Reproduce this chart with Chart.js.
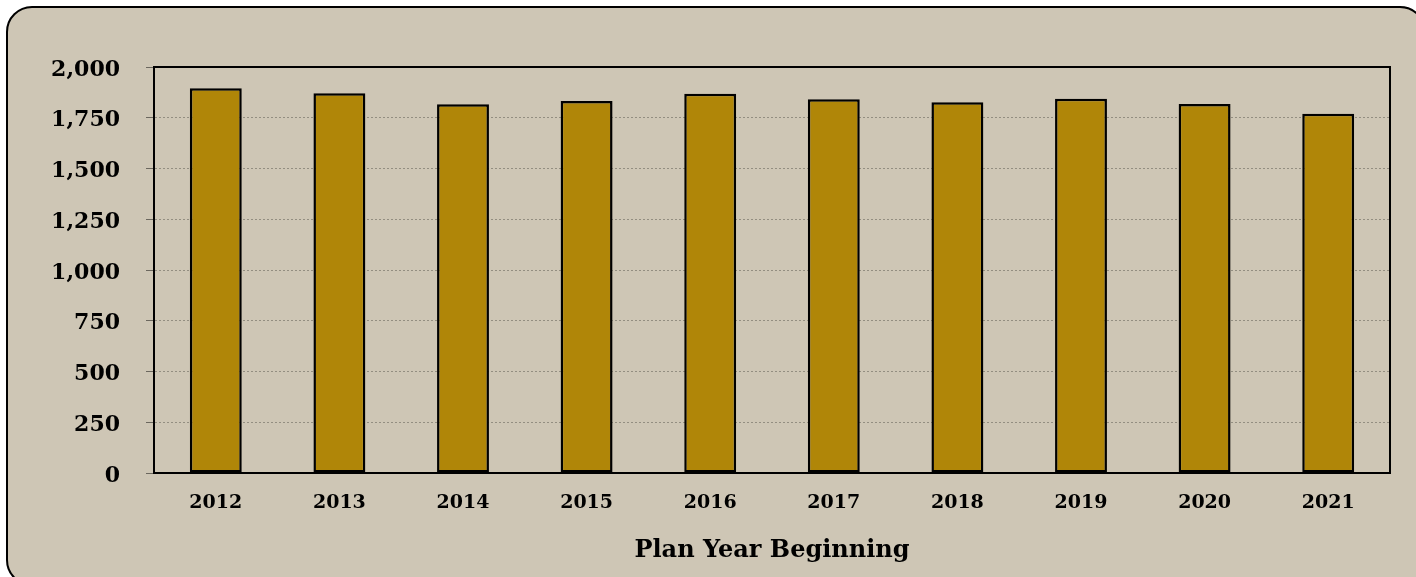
<!DOCTYPE html>
<html>
<head>
<meta charset="utf-8">
<script src="https://cdn.jsdelivr.net/npm/chart.js@4"></script>
<style>
  html, body { margin: 0; padding: 0; background: #ffffff; }
  #wrap { position: relative; width: 1416px; height: 577px; overflow: hidden; }
  #frame {
    position: absolute; left: 6px; top: 6px; width: 1420px; height: 580px;
    box-sizing: border-box; border: 2.5px solid #000; border-radius: 26px;
    background: #cec6b5;
  }
  #c { position: absolute; left: 0; top: 0; }
</style>
</head>
<body>
<div id="wrap">
  <div id="frame"></div>
  <canvas id="c" width="1416" height="577"></canvas>
</div>
<script>
const years = ['2012', '2013', '2014', '2015', '2016', '2017', '2018', '2019', '2020', '2021']
const counts = [1895, 1871, 1816, 1833, 1868, 1841, 1826, 1844, 1818, 1770]
const yTicks = [0, 250, 500, 750, 1000, 1250, 1500, 1750, 2000]

const fontName = "'DejaVu Serif', 'Liberation Serif', serif"

// box round the plot area (top and right sides too)
const plotBox = {
    id: 'plotBox',
    afterDatasetsDraw(chart) {
        const a = chart.chartArea
        const ctx = chart.ctx
        ctx.save()
        ctx.strokeStyle = '#000'
        ctx.lineWidth = 2
        ctx.strokeRect(a.left, a.top, a.right - a.left, a.bottom - a.top)
        ctx.restore()
    }
}

new Chart(document.getElementById('c'), {
    type: 'bar',
    data: {
        labels: years,
        datasets: [{
            data: counts,
            backgroundColor: '#b08608',
            borderColor: '#000',
            borderWidth: 2.5,
            borderSkipped: false,
            barPercentage: 0.84,
            categoryPercentage: 0.5
        }]
    },
    options: {
        responsive: false,
        animation: false,
        layout: { padding: { left: 0, top: 67, right: 26, bottom: 0 } },
        plugins: {
            legend: { display: false },
            tooltip: { enabled: false }
        },
        scales: {
            y: {
                min: 0,
                max: 2000,
                afterBuildTicks(scale) {
                    scale.ticks = yTicks.map(v => ({ value: v }))
                },
                afterFit(scale) { scale.width = 154 },
                ticks: {
                    color: '#000',
                    padding: 26,
                    labelOffset: 3,
                    font: { family: fontName, size: 22, weight: 'bold' },
                    callback: v => v.toLocaleString('en-US')
                },
                grid: {
                    color: '#938e81',
                    lineWidth: 1,
                    tickLength: 8,
                    tickColor: '#6b675e',
                    tickBorderDash: []
                },
                border: { display: true, color: '#000', width: 2, dash: [2, 2] }
            },
            x: {
                afterFit(scale) { scale.height = 104 },
                ticks: {
                    color: '#000',
                    padding: 19,
                    font: { family: fontName, size: 19, weight: 'bold' }
                },
                grid: { display: false, drawTicks: false },
                border: { display: true, color: '#000', width: 2 },
                title: {
                    display: true,
                    text: 'Plan Year Beginning',
                    color: '#000',
                    padding: { top: 0, bottom: 12 },
                    font: { family: fontName, size: 24, weight: 'bold' }
                }
            }
        }
    },
    plugins: [plotBox]
})
</script>
</body>
</html>
